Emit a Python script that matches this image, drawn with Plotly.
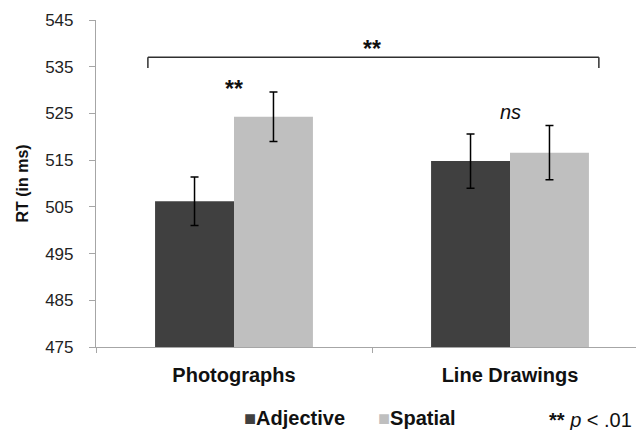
import plotly.graph_objects as go

categories = ["Photographs", "Line Drawings"]
adjective_rt = [506.2, 514.8]
adjective_err = [5.2, 5.8]
spatial_rt = [524.3, 516.6]
spatial_err = [5.3, 5.8]
y_ticks = [475, 485, 495, 505, 515, 525, 535, 545]

FONT = "Liberation Sans, Arial, sans-serif"
DARK = "#404040"
LIGHT = "#bfbfbf"
AXIS = "#a6a6a6"

fig = go.Figure()
fig.add_trace(go.Bar(
    name="Adjective", x=categories, y=adjective_rt, marker=dict(color=DARK, line=dict(width=0)),
    error_y=dict(type="data", array=adjective_err, color="black", thickness=1.5, width=4),
))
fig.add_trace(go.Bar(
    name="Spatial", x=categories, y=spatial_rt, marker=dict(color=LIGHT, line=dict(width=0)),
    error_y=dict(type="data", array=spatial_err, color="black", thickness=1.5, width=4),
))

# significance bracket
br_left, br_right, br_top, br_bottom = -0.312, 1.322, 537.0, 534.7
fig.add_shape(type="line", xref="x", yref="y", x0=br_left, x1=br_right, y0=br_top, y1=br_top,
              line=dict(color="#303030", width=1.5))
fig.add_shape(type="line", xref="x", yref="y", x0=br_left, x1=br_left, y0=br_top, y1=br_bottom,
              line=dict(color="#303030", width=1.5))
fig.add_shape(type="line", xref="x", yref="y", x0=br_right, x1=br_right, y0=br_top, y1=br_bottom,
              line=dict(color="#303030", width=1.5))

fig.add_annotation(x=0.5, y=538.9, xref="x", yref="y", text="<b>**</b>", showarrow=False,
                   font=dict(family=FONT, size=23, color="#111"))
fig.add_annotation(x=0.0, y=530.3, xref="x", yref="y", text="<b>**</b>", showarrow=False,
                   font=dict(family=FONT, size=23, color="#111"))
fig.add_annotation(x=1.0, y=525.4, xref="x", yref="y", text="<i>ns</i>", showarrow=False,
                   font=dict(family=FONT, size=20, color="#111"))

# legend row
fig.add_annotation(x=0.266, y=-0.217, xref="paper", yref="paper", xanchor="left", yanchor="middle",
                   text=f"<span style='color:{DARK}'>■</span><b>Adjective</b>", showarrow=False,
                   font=dict(family=FONT, size=20, color="#111"))
fig.add_annotation(x=0.511, y=-0.217, xref="paper", yref="paper", xanchor="left", yanchor="middle",
                   text=f"<span style='color:{LIGHT}'>■</span><b>Spatial</b>", showarrow=False,
                   font=dict(family=FONT, size=20, color="#111"))
fig.add_annotation(x=0.903, y=-0.222, xref="paper", yref="paper", xanchor="center", yanchor="middle",
                   text="<b>**</b> <i>p</i> < .01", showarrow=False,
                   font=dict(family=FONT, size=20, color="#111"))

# the page body adds an 8px offset, so the figure is 8px smaller than the window
fig.update_layout(
    width=636, height=422,
    margin=dict(l=88, r=0, t=12, b=83),
    paper_bgcolor="white", plot_bgcolor="white",
    barmode="group", bargap=0.428, bargroupgap=0,
    showlegend=False,
    font=dict(family=FONT, color="#222"),
    xaxis=dict(
        type="category", range=[-0.5, 1.4855],
        showline=True, linecolor=AXIS, linewidth=1.2,
        ticks="outside", tickson="boundaries", ticklen=5, tickcolor=AXIS,
        tickfont=dict(family=FONT, size=20, color="#111", weight="bold"),
        ticklabelstandoff=10, showgrid=False, zeroline=False,
    ),
    yaxis=dict(
        range=[475, 545], tickvals=y_ticks, ticktext=[str(v) for v in y_ticks],
        showline=True, linecolor=AXIS, linewidth=1.2,
        ticks="outside", ticklen=6, tickcolor=AXIS,
        tickfont=dict(family=FONT, size=17, color="#222"),
        ticklabelstandoff=12, showgrid=False, zeroline=False,
        title=dict(text="<b>RT (in ms)</b>", font=dict(family=FONT, size=16, color="#111"), standoff=12),
    ),
)

fig.write_html("out.html")
